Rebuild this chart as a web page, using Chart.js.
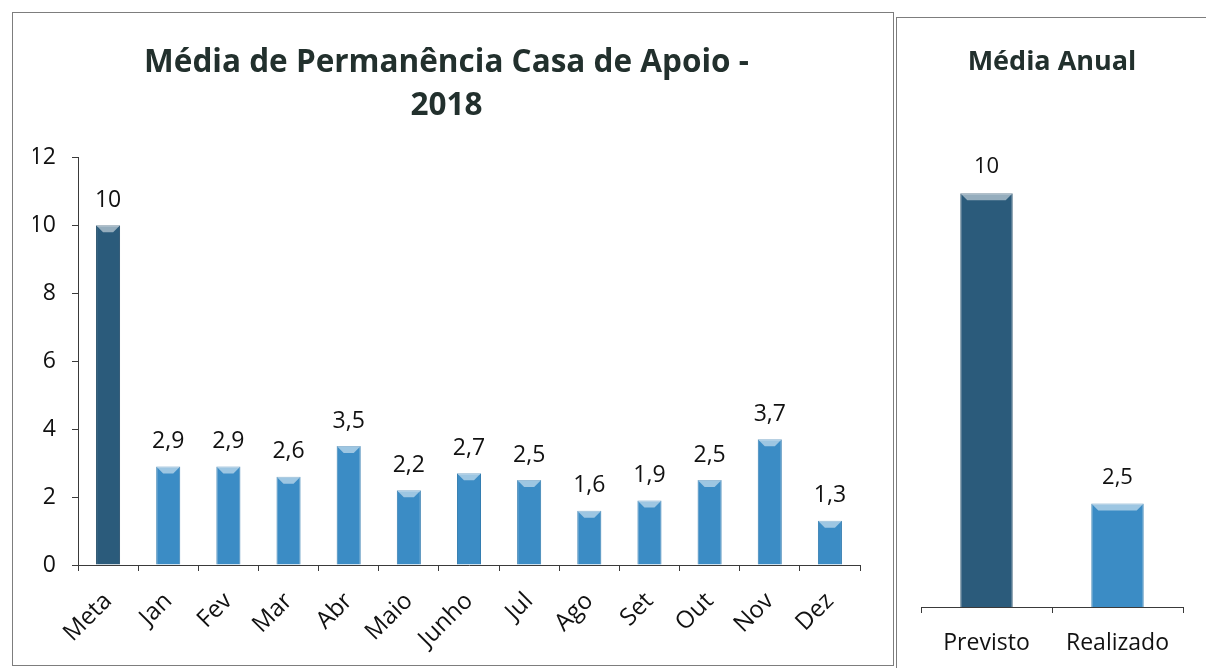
<!DOCTYPE html>
<html>
<head>
<meta charset="utf-8">
<script src="https://cdn.jsdelivr.net/npm/chart.js@4.4.0/dist/chart.umd.min.js"></script>
<style>
html, body { margin: 0; padding: 0; background: #fff; }
body { width: 1206px; height: 668px; position: relative; overflow: hidden; }
.panel { position: absolute; border: 1px solid #7d7d7d; }
#p1 { left: 12px; top: 12px; width: 880px; height: 652px; }
#p2 { left: 896px; top: 17px; width: 320px; height: 660px; }
canvas { display: block; }
</style>
</head>
<body>
<div class="panel" id="p1"><canvas id="mensal" width="880" height="652"></canvas></div>
<div class="panel" id="p2"><canvas id="anual" width="320" height="660"></canvas></div>

<script>
// data
const months = ["Meta", "Jan", "Fev", "Mar", "Abr", "Maio", "Junho", "Jul", "Ago", "Set", "Out", "Nov", "Dez"];
const monthValues = [10, 2.9, 2.9, 2.6, 3.5, 2.2, 2.7, 2.5, 1.6, 1.9, 2.5, 3.7, 1.3];
const annualLabels = ["Previsto", "Realizado"];
const annualValues = [10, 2.5];
const yMax = 12;
const yStep = 2;

const DARK = "#2b5b7b";
const LIGHT = "#3b8cc5";
const FONT = "'Open Sans', 'DejaVu Sans', sans-serif";

const fmt = v => String(v).replace(".", ",");

// value labels above the bars + small bevel at bar top
const barDecor = {
    id: "barDecor",
    afterDatasetsDraw(chart, args, opts) {
        const ctx = chart.ctx;
        const meta = chart.getDatasetMeta(0);
        const values = chart.data.datasets[0].data;
        ctx.save();
        meta.data.forEach((bar, i) => {
            const w = bar.width;
            const left = bar.x - w / 2;
            // bevel
            ctx.fillStyle = "rgba(255,255,255,0.5)";
            ctx.beginPath();
            ctx.moveTo(left, bar.y);
            ctx.lineTo(left + w, bar.y);
            ctx.lineTo(left + w - 7, bar.y + 7);
            ctx.lineTo(left + 7, bar.y + 7);
            ctx.closePath();
            ctx.fill();
            // label
            ctx.fillStyle = "#111";
            ctx.font = opts.size + "px " + FONT;
            ctx.textAlign = "center";
            ctx.textBaseline = "middle";
            ctx.fillText(fmt(values[i]), bar.x, bar.y - opts.offset);
        });
        ctx.restore();
    }
};

/* -----------------------
   MONTHLY CHART
------------------------ */
new Chart(document.getElementById("mensal"), {
    type: "bar",
    data: {
        labels: months,
        datasets: [{
            data: monthValues,
            backgroundColor: months.map((m, i) => i === 0 ? DARK : LIGHT),
            borderColor: months.map((m, i) => i === 0 ? "#244d68" : "#347db0"),
            borderWidth: 1,
            barPercentage: 0.4,
            categoryPercentage: 1
        }]
    },
    options: {
        responsive: false,
        animation: false,
        layout: { padding: { left: 20, right: 33, top: 0, bottom: 0 } },
        plugins: {
            legend: { display: false },
            tooltip: { enabled: false },
            title: {
                display: true,
                text: ["Média de Permanência Casa de Apoio -", "2018"],
                color: "#22302d",
                font: { family: FONT, size: 31.5, weight: "bold", lineHeight: 1.37 },
                padding: { top: 28, bottom: 30 }
            },
            barDecor: { size: 23, offset: 25 }
        },
        scales: {
            x: {
                afterFit: s => { s.height = 100; },
                border: { color: "#3a3a3a", width: 1 },
                grid: { drawOnChartArea: false, drawTicks: true, tickLength: 6, color: "#3a3a3a", offset: true },
                ticks: {
                    color: "#111",
                    font: { family: FONT, size: 24 },
                    minRotation: 45,
                    maxRotation: 45,
                    padding: 16
                }
            },
            y: {
                min: 0,
                max: yMax,
                afterFit: s => { s.width = 45; },
                border: { color: "#3a3a3a", width: 1 },
                grid: { drawOnChartArea: false, drawTicks: true, tickLength: 6, color: "#3a3a3a" },
                ticks: {
                    stepSize: yStep,
                    color: "#111",
                    font: { family: FONT, size: 23 },
                    padding: 16
                }
            }
        }
    },
    plugins: [barDecor]
});

/* -----------------------
   ANNUAL CHART
------------------------ */
new Chart(document.getElementById("anual"), {
    type: "bar",
    data: {
        labels: annualLabels,
        datasets: [{
            data: annualValues,
            backgroundColor: [DARK, LIGHT],
            borderColor: ["#244d68", "#347db0"],
            borderWidth: 1,
            barPercentage: 0.4,
            categoryPercentage: 1
        }]
    },
    options: {
        responsive: false,
        animation: false,
        layout: { padding: { left: 24, right: 34, top: 0, bottom: 0 } },
        plugins: {
            legend: { display: false },
            tooltip: { enabled: false },
            title: {
                display: true,
                text: "Média Anual",
                color: "#22302d",
                font: { family: FONT, size: 27, weight: "bold", lineHeight: 1.2 },
                padding: { top: 28, bottom: 32 }
            },
            barDecor: { size: 22, offset: 26 }
        },
        scales: {
            x: {
                afterFit: s => { s.height = 71; },
                border: { color: "#3a3a3a", width: 1 },
                grid: { drawOnChartArea: false, drawTicks: true, tickLength: 6, color: "#3a3a3a", offset: true },
                ticks: {
                    color: "#111",
                    font: { family: FONT, size: 23 },
                    maxRotation: 0,
                    padding: 17
                }
            },
            y: {
                display: false,
                min: 0,
                max: yMax
            }
        }
    },
    plugins: [barDecor]
});
</script>
</body>
</html>
